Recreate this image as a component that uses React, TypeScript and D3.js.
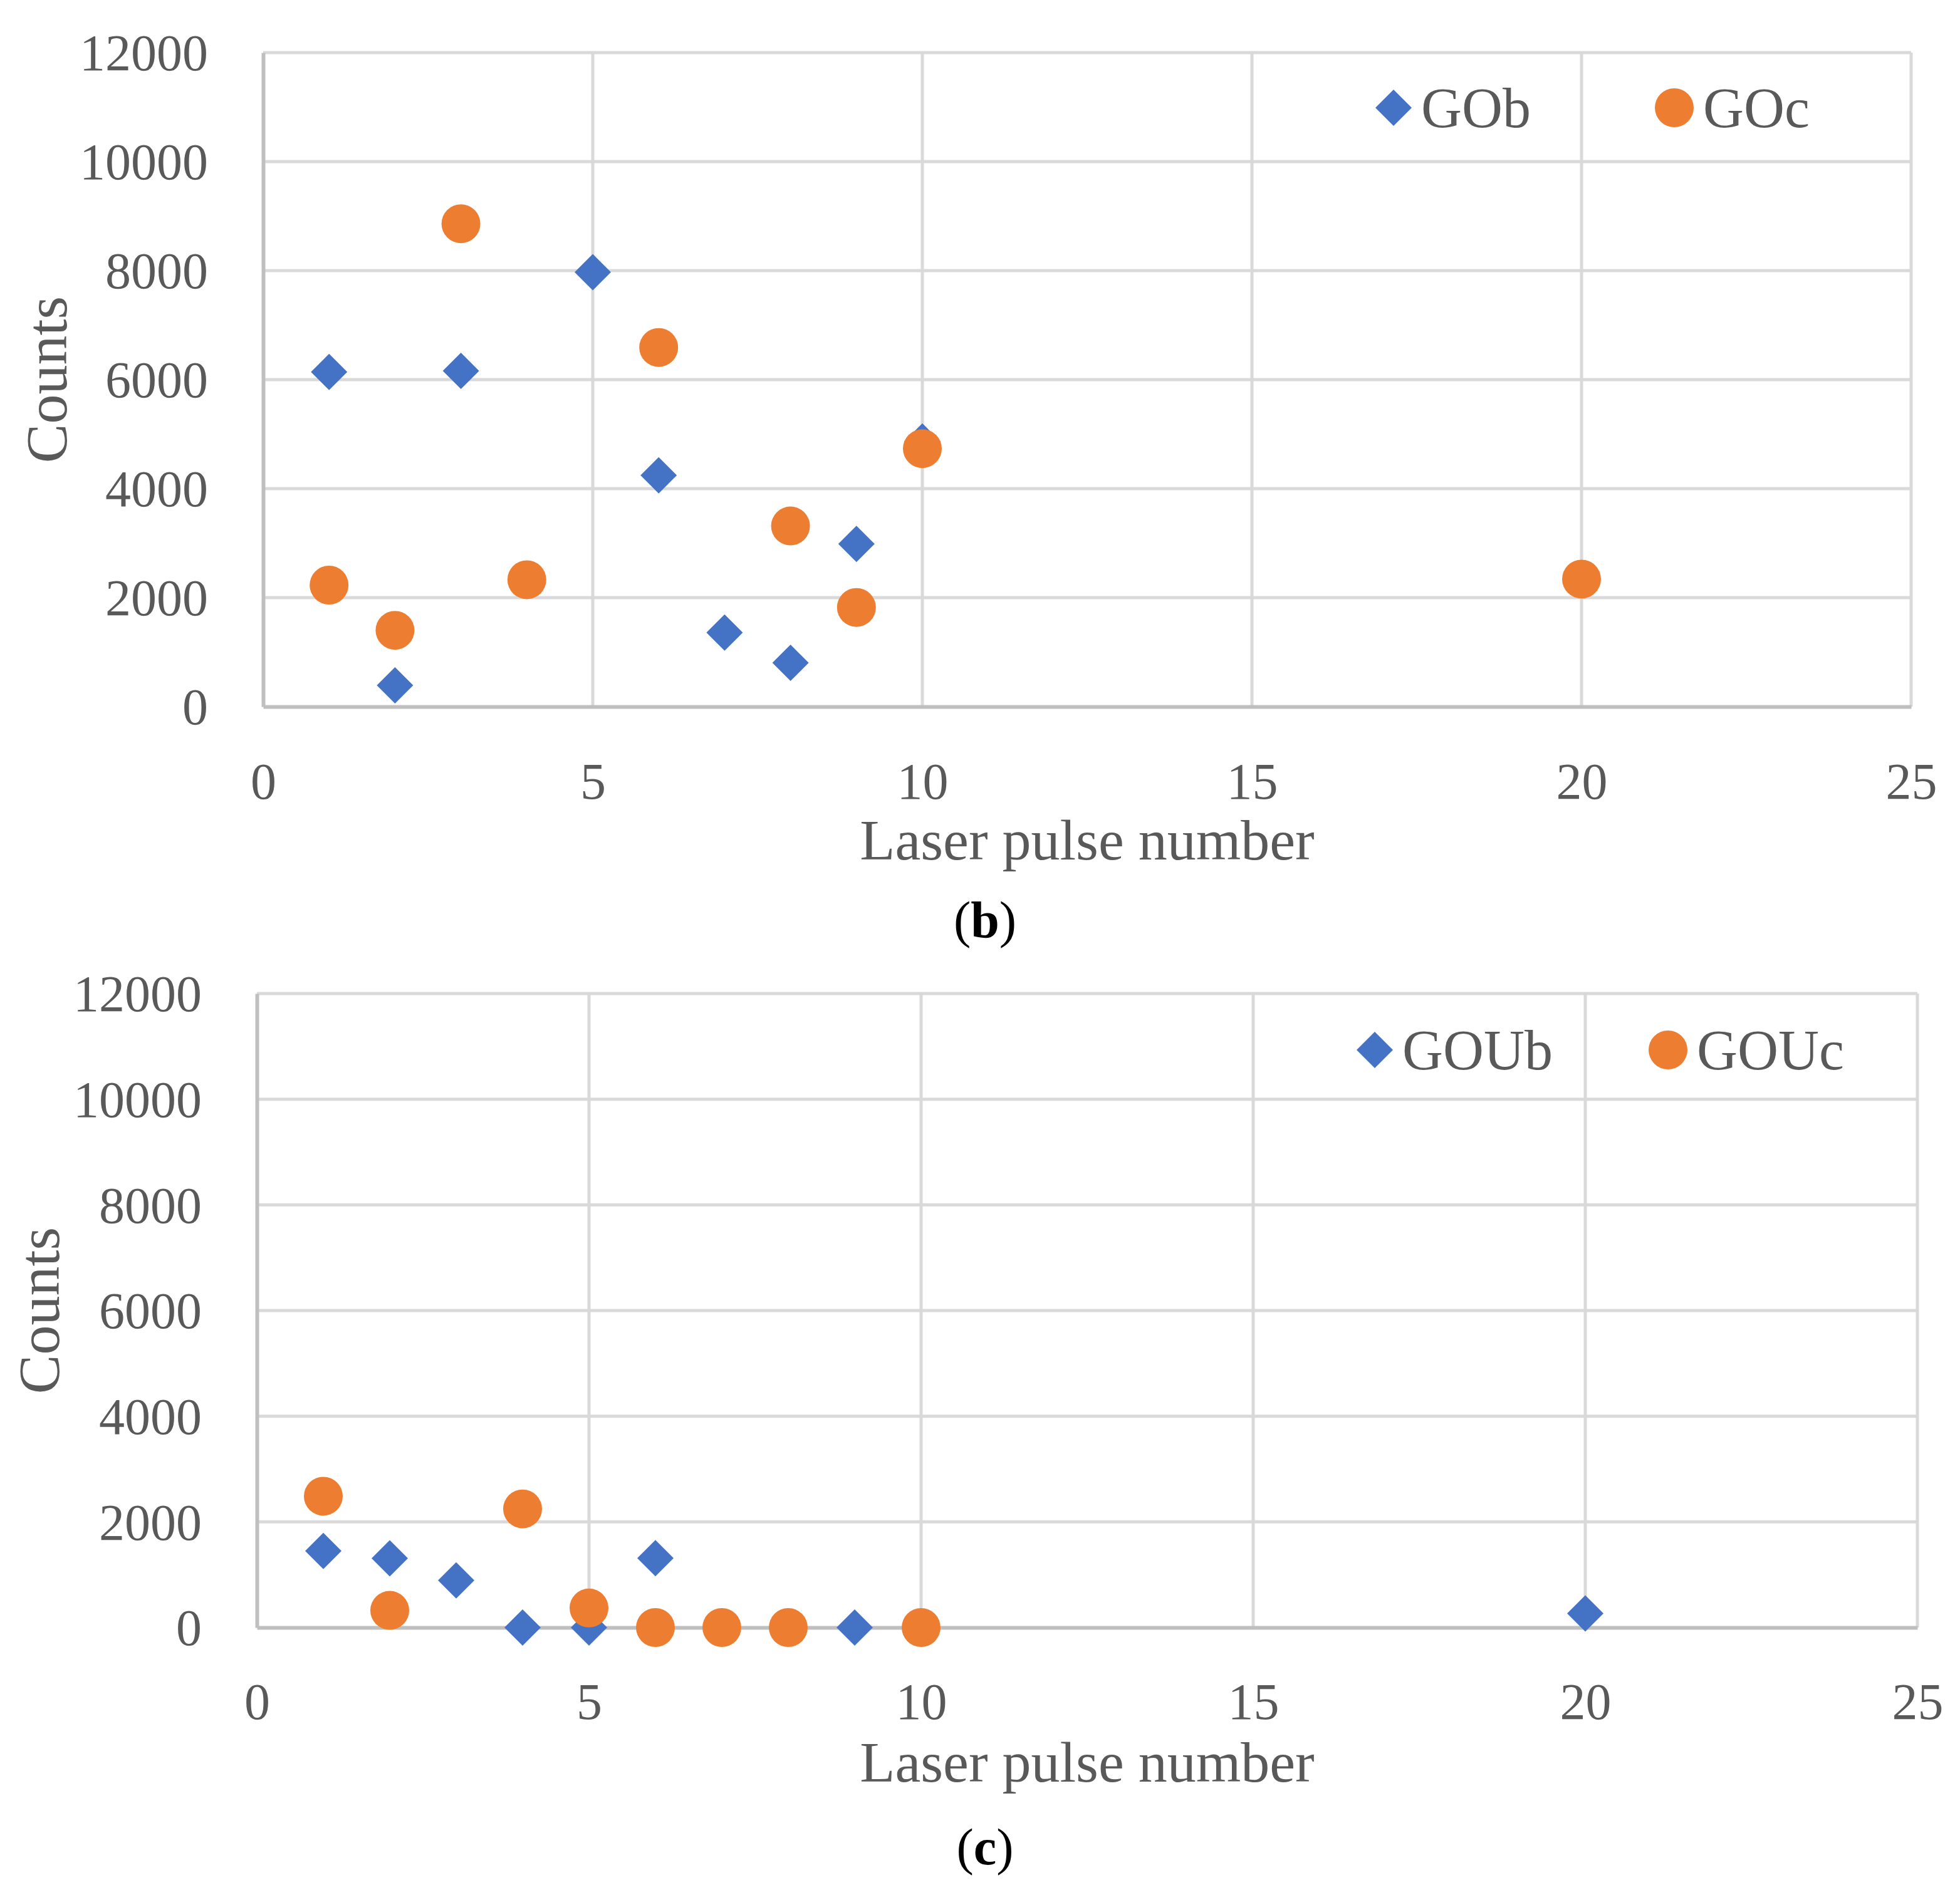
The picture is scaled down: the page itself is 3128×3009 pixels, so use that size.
import { useEffect, useRef } from "react"
import * as d3 from "d3"

// panel (b)
const gobPulse = [1, 2, 3, 5, 6, 7, 8, 9, 10]
const gobCounts = [6140, 390, 6160, 7970, 4245, 1358, 804, 2985, 4866]
const gocPulse = [1, 2, 3, 4, 6, 8, 9, 10, 20]
const gocCounts = [2230, 1400, 8860, 2328, 6590, 3315, 1820, 4734, 2340]

// panel (c)
const goubPulse = [1, 2, 3, 4, 5, 6, 9, 20]
const goubCounts = [1450, 1310, 892, 0, 0, 1312, 0, 268]
const goucPulse = [1, 2, 4, 5, 6, 7, 8, 10]
const goucCounts = [2485, 325, 2245, 370, 0, 0, 0, 0]

const xTicks = [0, 5, 10, 15, 20, 25]
const yTicks = [0, 2000, 4000, 6000, 8000, 10000, 12000]

const FONT = "'Liberation Serif', 'DejaVu Serif', serif"
const BLUE = "#4472c4"
const ORANGE = "#ed7d31"
const TEXT = "#595959"

interface Panel {
  left: number; right: number; top: number; bottom: number;
  tickY: number; titleY: number; countsX: number; labelY: number;
  label: string;
  seriesB: { name: string; x: number[]; y: number[] };
  seriesC: { name: string; x: number[]; y: number[] };
  legendB: number; legendC: number; legendY: number;
}

const panels: Panel[] = [
  {
    left: 420, right: 3050, top: 84, bottom: 1128,
    tickY: 1275, titleY: 1372, countsX: 74, labelY: 1496, label: "b",
    seriesB: { name: "GOb", x: gobPulse, y: gobCounts },
    seriesC: { name: "GOc", x: gocPulse, y: gocCounts },
    legendB: 2224, legendC: 2672, legendY: 172,
  },
  {
    left: 410, right: 3060, top: 1586, bottom: 2598,
    tickY: 2744, titleY: 2844, countsX: 62, labelY: 2976, label: "c",
    seriesB: { name: "GOUb", x: goubPulse, y: goubCounts },
    seriesC: { name: "GOUc", x: goucPulse, y: goucCounts },
    legendB: 2194, legendC: 2662, legendY: 1676,
  },
]

// diamond marker, half diagonal in px
const DIA = 29
const diamondPath = `M0,${-DIA}L${DIA},0L0,${DIA}L${-DIA},0Z`

export default function App() {
  const svgRef = useRef<SVGSVGElement>(null)

  useEffect(() => {
    if (!svgRef.current) return
    document.body.style.margin = "0"
    const svg = d3.select(svgRef.current)
    svg.selectAll("*").remove()

    panels.forEach(p => {
      const x = d3.scaleLinear().domain([0, 25]).range([p.left, p.right])
      const y = d3.scaleLinear().domain([0, 12000]).range([p.bottom, p.top])
      const g = svg.append("g")

      // gridlines
      g.append("g").selectAll("line")
        .data(yTicks.filter(t => t > 0))
        .enter().append("line")
        .attr("x1", p.left).attr("x2", p.right)
        .attr("y1", d => y(d)).attr("y2", d => y(d))
        .attr("stroke", "#d9d9d9").attr("stroke-width", 5)
      g.append("g").selectAll("line")
        .data(xTicks.filter(t => t > 0))
        .enter().append("line")
        .attr("x1", d => x(d)).attr("x2", d => x(d))
        .attr("y1", p.top).attr("y2", p.bottom)
        .attr("stroke", "#d9d9d9").attr("stroke-width", 5)

      // axes
      const xAxis = g.append("g")
        .attr("transform", `translate(0,${p.bottom})`)
        .call(d3.axisBottom(x).tickValues(xTicks).tickSize(0).tickPadding(0))
      xAxis.select(".domain").attr("stroke", "#bfbfbf").attr("stroke-width", 6)
      xAxis.selectAll("text")
        .attr("y", p.tickY - p.bottom).attr("dy", null)
        .attr("fill", TEXT).style("font-family", FONT).style("font-size", "82px")

      const yAxis = g.append("g")
        .attr("transform", `translate(${p.left},0)`)
        .call(d3.axisLeft(y).tickValues(yTicks).tickSize(0).tickPadding(0).tickFormat(d3.format("d")))
      yAxis.select(".domain").attr("stroke", "#bfbfbf").attr("stroke-width", 6)
      yAxis.selectAll("text")
        .attr("x", -88).attr("dy", "0.34em")
        .attr("fill", TEXT).style("font-family", FONT).style("font-size", "82px")

      // titles
      g.append("text")
        .attr("x", (p.left + p.right) / 2).attr("y", p.titleY)
        .attr("text-anchor", "middle")
        .attr("fill", TEXT).style("font-family", FONT).style("font-size", "92px")
        .text("Laser pulse number")
      g.append("text")
        .attr("transform", `translate(${p.countsX},${(p.top + p.bottom) / 2}) rotate(-90)`)
        .attr("text-anchor", "middle").attr("dy", "0.34em")
        .attr("fill", TEXT).style("font-family", FONT).style("font-size", "94px")
        .text("Counts")

      // panel label
      const lab = g.append("text")
        .attr("x", 1572).attr("y", p.labelY)
        .attr("text-anchor", "middle")
        .attr("fill", "#000").style("font-family", FONT).style("font-size", "82px")
      lab.append("tspan").text("(")
      lab.append("tspan").attr("font-weight", "bold").text(p.label)
      lab.append("tspan").text(")")

      // points
      const bData = p.seriesB.x.map((v, i) => ({ x: v, y: p.seriesB.y[i] }))
      const cData = p.seriesC.x.map((v, i) => ({ x: v, y: p.seriesC.y[i] }))
      g.append("g").selectAll("path")
        .data(bData).enter().append("path")
        .attr("d", diamondPath)
        .attr("transform", d => `translate(${x(d.x)},${y(d.y)})`)
        .attr("fill", BLUE)
      g.append("g").selectAll("circle")
        .data(cData).enter().append("circle")
        .attr("cx", d => x(d.x)).attr("cy", d => y(d.y))
        .attr("r", 31).attr("fill", ORANGE)

      // legend
      g.append("path")
        .attr("d", diamondPath)
        .attr("transform", `translate(${p.legendB},${p.legendY})`)
        .attr("fill", BLUE)
      g.append("text")
        .attr("x", p.legendB + 44).attr("y", p.legendY).attr("dy", "0.34em")
        .attr("fill", TEXT).style("font-family", FONT).style("font-size", "90px")
        .text(p.seriesB.name)
      g.append("circle")
        .attr("cx", p.legendC).attr("cy", p.legendY).attr("r", 31)
        .attr("fill", ORANGE)
      g.append("text")
        .attr("x", p.legendC + 46).attr("y", p.legendY).attr("dy", "0.34em")
        .attr("fill", TEXT).style("font-family", FONT).style("font-size", "90px")
        .text(p.seriesC.name)
    })
  }, [])

  return (
    <svg ref={svgRef} width={3128} height={3009} style={{ display: "block", background: "#fff" }} />
  )
}
